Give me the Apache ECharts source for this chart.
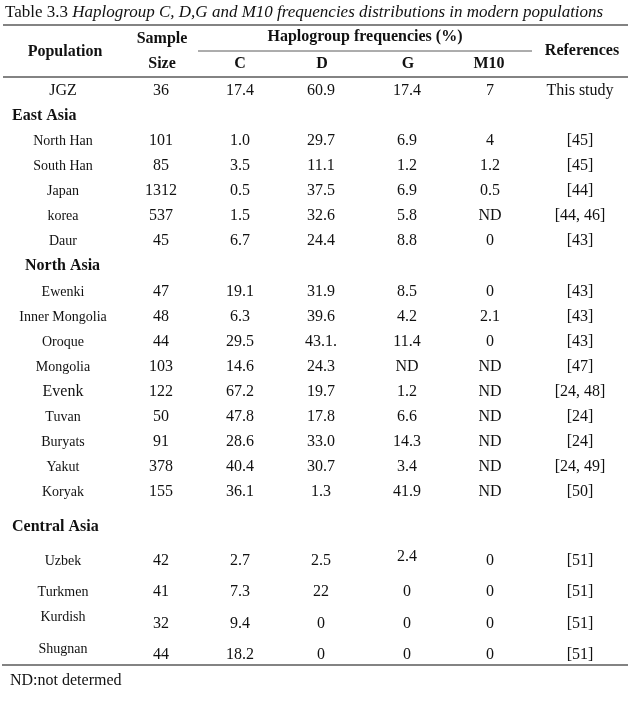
<!DOCTYPE html>
<html><head><meta charset="utf-8">
<script src="https://cdn.jsdelivr.net/npm/echarts@6/dist/echarts.min.js"></script>
<style>html,body{margin:0;padding:0;background:#fff}#c{width:638px;height:701px}</style>
</head><body><div id="c"></div>
<script>
// ---------- data ----------
const captionLabel = 'Table 3.3 ';
const captionText = 'Haplogroup C, D,G and M10 frequencies distributions in modern populations';
const footnote = 'ND:not determed';
const headerPopulation = 'Population';
const headerSample = ['Sample', 'Size'];
const headerFreq = 'Haplogroup frequencies (%)';
const haplogroups = ['C', 'D', 'G', 'M10'];
const headerRef = 'References';
const regions = ['East Asia', 'North Asia', 'Central Asia'];
const populations = ['JGZ', 'North Han', 'South Han', 'Japan', 'korea', 'Daur',
  'Ewenki', 'Inner Mongolia', 'Oroque', 'Mongolia', 'Evenk', 'Tuvan', 'Buryats', 'Yakut', 'Koryak',
  'Uzbek', 'Turkmen', 'Kurdish', 'Shugnan'];
const regionOf = ['', 'East Asia', 'East Asia', 'East Asia', 'East Asia', 'East Asia',
  'North Asia', 'North Asia', 'North Asia', 'North Asia', 'North Asia', 'North Asia', 'North Asia', 'North Asia', 'North Asia',
  'Central Asia', 'Central Asia', 'Central Asia', 'Central Asia'];
const sampleSize = ['36', '101', '85', '1312', '537', '45', '47', '48', '44', '103', '122', '50', '91', '378', '155', '42', '41', '32', '44'];
const freqC = ['17.4', '1.0', '3.5', '0.5', '1.5', '6.7', '19.1', '6.3', '29.5', '14.6', '67.2', '47.8', '28.6', '40.4', '36.1', '2.7', '7.3', '9.4', '18.2'];
const freqD = ['60.9', '29.7', '11.1', '37.5', '32.6', '24.4', '31.9', '39.6', '43.1.', '24.3', '19.7', '17.8', '33.0', '30.7', '1.3', '2.5', '22', '0', '0'];
const freqG = ['17.4', '6.9', '1.2', '6.9', '5.8', '8.8', '8.5', '4.2', '11.4', 'ND', '1.2', '6.6', '14.3', '3.4', '41.9', '2.4', '0', '0', '0'];
const freqM10 = ['7', '4', '1.2', '0.5', 'ND', '0', '0', '2.1', '0', 'ND', 'ND', 'ND', 'ND', 'ND', 'ND', '0', '0', '0', '0'];
const references = ['This study', '[45]', '[45]', '[44]', '[44, 46]', '[43]', '[43]', '[43]', '[43]', '[47]', '[24, 48]', '[24]', '[24]', '[24, 49]', '[50]', '[51]', '[51]', '[51]', '[51]'];

// ---------- layout ----------
const W = 638, H = 701;
const SERIF = '"Liberation Serif", "DejaVu Serif", serif';
const colX = { pop: 63, sample: 161, C: 240, D: 321, G: 407, M10: 490, ref: 580 };
const rowY = [91, 141, 166, 191, 216, 241, 292, 317, 342, 367, 392, 417, 442, 467, 492, 561, 592, 624, 655];
const labelY = rowY.map((y, i) => populations[i] === 'Kurdish' ? 617 : populations[i] === 'Shugnan' ? 649 : y);
const regionPos = { 'East Asia': [12, 116], 'North Asia': [25, 266], 'Central Asia': [12, 527] };

const cells = [];
function cell(x, y, text, font, align) { cells.push({ value: [x, y], text, font, align: align || 'center' }); }

const fVal = '16px ' + SERIF;
const fLab = '14px ' + SERIF;
const fHead = 'bold 16px ' + SERIF;

// caption
cells.push({ value: [5, 13], rich: true, text: '{a|' + captionLabel + '}{b|' + captionText + '}', align: 'left' });
// header
cell(65, 52, headerPopulation, fHead);
cell(162, 39, headerSample[0], fHead);
cell(162, 64, headerSample[1], fHead);
cell(365, 37, headerFreq, fHead);
const hgX = [240, 322, 408, 489];
haplogroups.forEach((h, i) => cell(hgX[i], 64, h, fHead));
cell(582, 51, headerRef, fHead);
// regions
regions.forEach(r => cell(regionPos[r][0], regionPos[r][1], r, fHead, 'left'));
// rows
populations.forEach((p, i) => {
  const y = rowY[i];
  const labFont = (i === 0 || p === 'Evenk') ? fVal : fLab;
  cell(colX.pop, labelY[i], p, labFont);
  cell(colX.sample, y, sampleSize[i], fVal);
  cell(colX.C, y, freqC[i], fVal);
  cell(colX.D, y, freqD[i], fVal);
  cell(colX.G, (p === 'Uzbek') ? y - 4 : y, freqG[i], fVal);
  cell(colX.M10, y, freqM10[i], fVal);
  cell(colX.ref, y, references[i], fVal);
});
// footnote
cell(10, 681, footnote, fVal, 'left');

const rules = [
  { value: [3, 25, 628, 25], w: 1.6 },
  { value: [198, 51, 532, 51], w: 1 },
  { value: [3, 77, 628, 77], w: 1.4 },
  { value: [2, 665, 628, 665], w: 1.4 }
];

const chart = echarts.init(document.getElementById('c'), null, { renderer: 'canvas' });
chart.setOption({
  backgroundColor: '#fff',
  animation: false,
  grid: { left: 0, right: 0, top: 0, bottom: 0 },
  xAxis: { type: 'value', min: 0, max: W, show: false },
  yAxis: { type: 'value', min: 0, max: H, inverse: true, show: false },
  series: [
    {
      type: 'custom', coordinateSystem: 'cartesian2d', silent: true,
      data: rules,
      renderItem: function (params, api) {
        const a = api.coord([api.value(0), api.value(1)]);
        const b = api.coord([api.value(2), api.value(3)]);
        return { type: 'line', shape: { x1: a[0], y1: a[1], x2: b[0], y2: b[1] },
          style: { stroke: '#5a5a5a', lineWidth: rules[params.dataIndex].w } };
      }
    },
    {
      type: 'custom', coordinateSystem: 'cartesian2d', silent: true,
      data: cells,
      renderItem: function (params, api) {
        const c = cells[params.dataIndex];
        const p = api.coord([api.value(0), api.value(1)]);
        const style = { text: c.text, fill: '#111', align: c.align, verticalAlign: 'middle' };
        if (c.rich) {
          style.rich = {
            a: { font: '17px ' + SERIF, fill: '#111' },
            b: { font: 'italic 17px ' + SERIF, fill: '#111' }
          };
          style.font = '17px ' + SERIF;
        } else {
          style.font = c.font;
        }
        return { type: 'text', x: p[0], y: p[1], style: style };
      }
    }
  ]
});
</script>
</body></html>
